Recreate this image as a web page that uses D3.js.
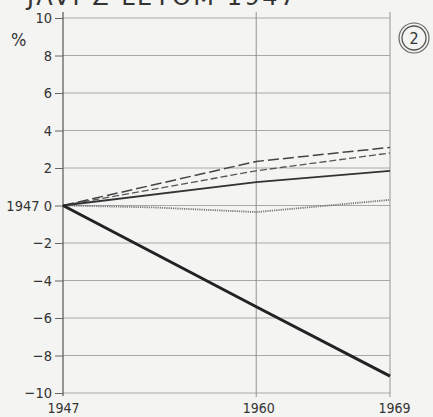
<!DOCTYPE html>
<html><head><meta charset="utf-8">
<script src="https://cdn.jsdelivr.net/npm/d3@7"></script>
<style>
html,body{margin:0;padding:0;background:#f4f4f2;}
svg{display:block;}
text{font-family:"DejaVu Sans Condensed","Liberation Sans Narrow",sans-serif;fill:#333;}
</style></head>
<body>
<script>
const years = [1947, 1960, 1969];
const yTicks = [10, 8, 6, 4, 2, 0, -2, -4, -6, -8, -10];
const yTickLabels = ["10", "8", "6", "4", "2", "1947 0", "\u22122", "\u22124", "\u22126", "\u22128", "\u221210"];
const seriesLongDash = [0, 2.35, 3.1];
const seriesDash = [0, 1.85, 2.8];
const seriesSolid = [0, 1.25, 1.85];
const dottedYears = [1947, 1953, 1960, 1969];
const seriesDotted = [0, -0.1, -0.35, 0.3];
const seriesThick = [0, -5.4, -9.1];
const title = "JAVI Z LETOM 1947";

const W = 433, H = 417;
const svg = d3.select("body").append("svg").attr("width", W).attr("height", H);

const x = d3.scaleLinear().domain([1947, 1969]).range([63, 390]);
const y = d3.scaleLinear().domain([-10, 10]).range([393, 18]);

// title (cut off at top, as in the reference)
svg.append("text").attr("x", 27).attr("y", 5).attr("font-size", 24)
  .style("font-family", "'DejaVu Sans',sans-serif")
  .style("letter-spacing", "2.5px").attr("fill", "#444").text(title);

// grid
const grid = svg.append("g");
grid.selectAll("line.h").data(yTicks).join("line")
  .attr("x1", x(1947)).attr("x2", x(1969))
  .attr("y1", d => y(d)).attr("y2", d => y(d))
  .attr("stroke", "#a0a0a0").attr("stroke-width", 0.9);
grid.selectAll("line.v").data([1960, 1969]).join("line")
  .attr("x1", d => x(d)).attr("x2", d => x(d))
  .attr("y1", y(10) - 6).attr("y2", y(-10) + 4)
  .attr("stroke", "#8a8a8a").attr("stroke-width", 0.9);

// y axis
const yAxis = d3.axisLeft(y).tickValues(yTicks).tickSize(8).tickPadding(3)
  .tickFormat((d, i) => yTickLabels[i]);
const ya = svg.append("g").attr("transform", `translate(${x(1947)},0)`).call(yAxis);
ya.select(".domain").attr("stroke", "#555").attr("stroke-width", 1.2)
  .attr("d", `M0,${y(10) - 6}V${y(-10) + 3}`);
ya.selectAll(".tick line").attr("stroke", "#666");
ya.selectAll(".tick text").attr("font-size", 14.5).attr("fill", "#333")
  .style("font-family", "'DejaVu Sans Condensed',sans-serif");

// x axis labels
const xAxis = d3.axisBottom(x).tickValues(years).tickSize(0).tickPadding(10).tickFormat(d3.format("d"));
const xa = svg.append("g").attr("transform", `translate(0,${y(-10)})`).call(xAxis);
xa.select(".domain").remove();
xa.selectAll(".tick text").attr("font-size", 14).attr("fill", "#333")
  .style("font-family", "'DejaVu Sans Condensed',sans-serif")
  .attr("dx", (d, i) => i === 2 ? 4 : (i === 1 ? 2 : 0));

// % label
svg.append("text").attr("x", 11).attr("y", 46).attr("font-size", 18).attr("fill", "#444").text("%");

// circled 2
svg.append("circle").attr("cx", 414).attr("cy", 38).attr("r", 15).attr("fill", "none").attr("stroke", "#666").attr("stroke-width", 1.2);
svg.append("circle").attr("cx", 414).attr("cy", 38).attr("r", 12).attr("fill", "none").attr("stroke", "#555").attr("stroke-width", 1.3);
svg.append("text").attr("x", 414).attr("y", 44).attr("text-anchor", "middle").attr("font-size", 16).attr("fill", "#333").text("2");

// lines
const line = d3.line().x((d, i) => x(years[i])).y(d => y(d));
const dotLine = d3.line().x((d, i) => x(dottedYears[i])).y(d => y(d));
const defs = [
  {v: seriesDotted, w: 1.8, c: "#777", dash: "1.2,1", gen: dotLine},
  {v: seriesLongDash, w: 1.5, c: "#444", dash: "11,4", gen: line},
  {v: seriesDash, w: 1.3, c: "#555", dash: "7,3", gen: line},
  {v: seriesSolid, w: 1.8, c: "#333", dash: null, gen: line},
  {v: seriesThick, w: 3, c: "#222", dash: null, gen: line},
];
svg.append("g").selectAll("path").data(defs).join("path")
  .attr("d", d => d.gen(d.v))
  .attr("fill", "none")
  .attr("stroke", d => d.c)
  .attr("stroke-width", d => d.w)
  .attr("stroke-dasharray", d => d.dash);
</script>
</body></html>
